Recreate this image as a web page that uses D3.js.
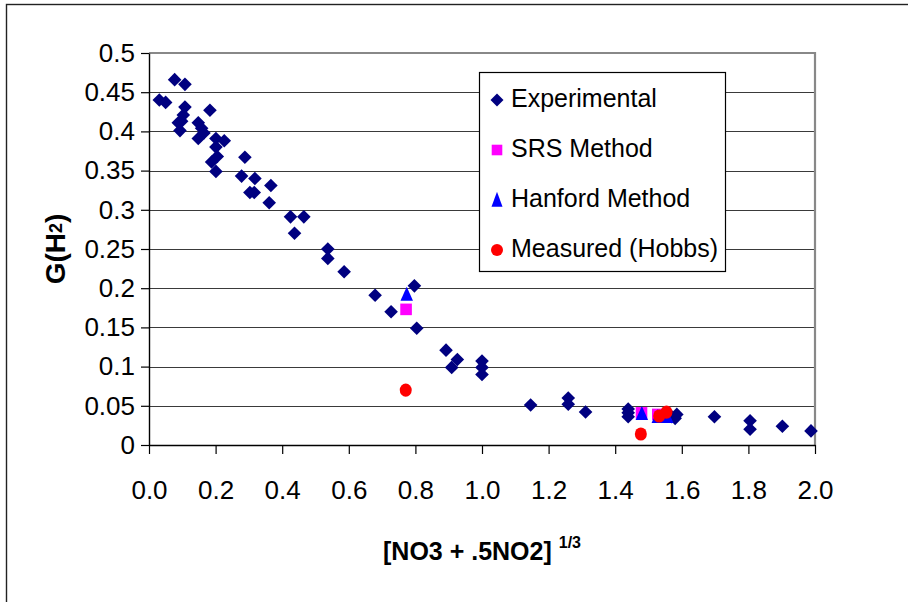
<!DOCTYPE html>
<html>
<head>
<meta charset="utf-8">
<script src="https://cdn.jsdelivr.net/npm/d3@7"></script>
<style>
  html, body { margin: 0; padding: 0; background: #fff; }
  svg { display: block; }
  text { font-family: "Liberation Sans", Arial, sans-serif; }
</style>
</head>
<body>
<svg id="chart" width="908" height="602"></svg>
<script>
// ---- data ----
const experimental = [
  [0.031,0.440],[0.050,0.437],[0.077,0.466],[0.108,0.460],[0.108,0.431],
  [0.103,0.421],[0.088,0.411],[0.098,0.413],[0.093,0.401],[0.183,0.427],
  [0.148,0.411],[0.158,0.404],[0.165,0.398],[0.148,0.391],[0.201,0.391],
  [0.226,0.388],[0.201,0.380],[0.205,0.368],[0.188,0.361],[0.201,0.349],
  [0.288,0.367],[0.278,0.343],[0.318,0.340],[0.303,0.322],[0.316,0.322],
  [0.366,0.331],[0.361,0.309],[0.425,0.291],[0.465,0.291],[0.437,0.270],
  [0.537,0.250],[0.537,0.238],[0.586,0.221],[0.679,0.191],[0.727,0.170],
  [0.797,0.203],[0.804,0.149],[0.892,0.121],[0.926,0.109],[0.909,0.099],
  [1.000,0.107],[1.000,0.099],[1.000,0.090],[1.146,0.051],[1.259,0.060],
  [1.259,0.052],[1.311,0.042],[1.439,0.046],[1.439,0.041],[1.439,0.036],
  [1.570,0.036],[1.585,0.039],[1.580,0.034],[1.698,0.036],[1.805,0.031],
  [1.805,0.020],[1.902,0.024],[1.988,0.018]
];
const srsMethod = [[0.772,0.173],[1.479,0.041],[1.528,0.039]];
const hanfordMethod = [[0.774,0.192],[1.480,0.040],[1.528,0.036],[1.556,0.036]];
const measuredHobbs = [[0.771,0.070],[1.477,0.014],[1.532,0.037],[1.554,0.042]];

const xTickValues = [0,0.2,0.4,0.6,0.8,1.0,1.2,1.4,1.6,1.8,2.0];
const xTickLabels = ["0.0","0.2","0.4","0.6","0.8","1.0","1.2","1.4","1.6","1.8","2.0"];
const yTickValues = [0,0.05,0.1,0.15,0.2,0.25,0.3,0.35,0.4,0.45,0.5];
const yTickLabels = ["0","0.05","0.1","0.15","0.2","0.25","0.3","0.35","0.4","0.45","0.5"];
const legendLabels = ["Experimental","SRS Method","Hanford Method","Measured (Hobbs)"];

// ---- layout ----
const svg = d3.select("#chart");
const L = 149, R = 815, T = 53, B = 445;
const x = d3.scaleLinear().domain([0,2]).range([L,R]);
const y = d3.scaleLinear().domain([0,0.5]).range([B,T]);

// outer frame
svg.append("rect").attr("x",6.5).attr("y",4.5).attr("width",920).attr("height",620)
  .attr("fill","#fff").attr("stroke","#222").attr("stroke-width",1.4);

// gridlines
svg.append("g").selectAll("line").data(yTickValues.filter(v => v > 0 && v < 0.5)).join("line")
  .attr("x1",L).attr("x2",R).attr("y1",d => Math.round(y(d))+0.5).attr("y2",d => Math.round(y(d))+0.5)
  .attr("stroke","#3a3a3a").attr("stroke-width",1);

// plot area top/right border (gray)
svg.append("path")
  .attr("d",`M${L},${T} H${R} V${B}`)
  .attr("fill","none").attr("stroke","#888").attr("stroke-width",2.2);

// axes
const fontSize = 26;
const yAxis = d3.axisLeft(y).tickValues(yTickValues)
  .tickFormat((d,i) => yTickLabels[i]).tickSize(8).tickSizeOuter(0).tickPadding(6);
const gy = svg.append("g").attr("transform",`translate(${L},0)`).call(yAxis);

const xAxis = d3.axisBottom(x).tickValues(xTickValues)
  .tickFormat((d,i) => xTickLabels[i]).tickSize(9).tickSizeOuter(0).tickPadding(27);
const gx = svg.append("g").attr("transform",`translate(0,${B})`).call(xAxis);

[gx, gy].forEach(g => {
  g.select(".domain").attr("stroke","#000").attr("stroke-width",1.4);
  g.selectAll(".tick line").attr("stroke","#000").attr("stroke-width",1.2);
  g.selectAll(".tick text").attr("fill","#000")
    .style("font-family",'"Liberation Sans", Arial, sans-serif').style("font-size",fontSize+"px");
});

// axis titles
const xt = svg.append("text").attr("x",(L+R)/2).attr("y",560).attr("text-anchor","middle")
  .style("font-size","25px").style("font-weight","bold").attr("fill","#000");
xt.append("tspan").text("[NO3 + .5NO2] ");
xt.append("tspan").text("1/3").style("font-size","16px").attr("dy",-12);

const yt = svg.append("text").attr("transform",`translate(65,${(T+B)/2}) rotate(-90)`)
  .attr("text-anchor","middle").style("font-size","28px").style("font-weight","bold").attr("fill","#000");
yt.append("tspan").text("G(H");
yt.append("tspan").text("2").style("font-size","18px").attr("dy",-3.5);
yt.append("tspan").text(")").attr("dy",3.5);

// markers
const colors = {exp:"#000080", srs:"#FF00FF", han:"#0000FF", mea:"#FF0000"};
const diamond = (cx,cy,h) => `M${cx},${cy-h} L${cx+h},${cy} L${cx},${cy+h} L${cx-h},${cy} Z`;
const square = (cx,cy,h) => `M${cx-h},${cy-h} H${cx+h} V${cy+h} H${cx-h} Z`;
const triangle = (cx,cy,w,h) => `M${cx},${cy-h*0.55} L${cx+w/2},${cy+h*0.45} L${cx-w/2},${cy+h*0.45} Z`;

const gm = svg.append("g");
gm.selectAll("path.exp").data(experimental).join("path").attr("class","exp")
  .attr("d",d => diamond(x(d[0]),y(d[1]),6.8)).attr("fill",colors.exp);
gm.selectAll("path.srs").data(srsMethod).join("path").attr("class","srs")
  .attr("d",d => square(x(d[0]),y(d[1]),5.8)).attr("fill",colors.srs);
gm.selectAll("path.han").data(hanfordMethod).join("path").attr("class","han")
  .attr("d",d => triangle(x(d[0]),y(d[1]),12.5,14)).attr("fill",colors.han);
gm.selectAll("ellipse.mea").data(measuredHobbs).join("ellipse").attr("class","mea")
  .attr("cx",d => x(d[0])).attr("cy",d => y(d[1])).attr("rx",6).attr("ry",6.6).attr("fill",colors.mea);

// legend
const lg = svg.append("g");
lg.append("rect").attr("x",479.5).attr("y",72.5).attr("width",246).attr("height",199)
  .attr("fill","#fff").attr("stroke","#000").attr("stroke-width",1.2);
const lgY = [100,150,200,250];
const mx = 497;
lg.append("path").attr("d",diamond(mx,lgY[0],6.5)).attr("fill",colors.exp);
lg.append("path").attr("d",square(mx,lgY[1],5.3)).attr("fill",colors.srs);
lg.append("path").attr("d",triangle(mx,lgY[2],11,15)).attr("fill",colors.han);
lg.append("circle").attr("cx",mx).attr("cy",lgY[3]).attr("r",6).attr("fill",colors.mea);
lg.selectAll("text").data(legendLabels).join("text")
  .attr("x",511).attr("y",(d,i) => lgY[i]+6.5)
  .style("font-size","25px").attr("fill","#000").text(d => d);
</script>
</body>
</html>
